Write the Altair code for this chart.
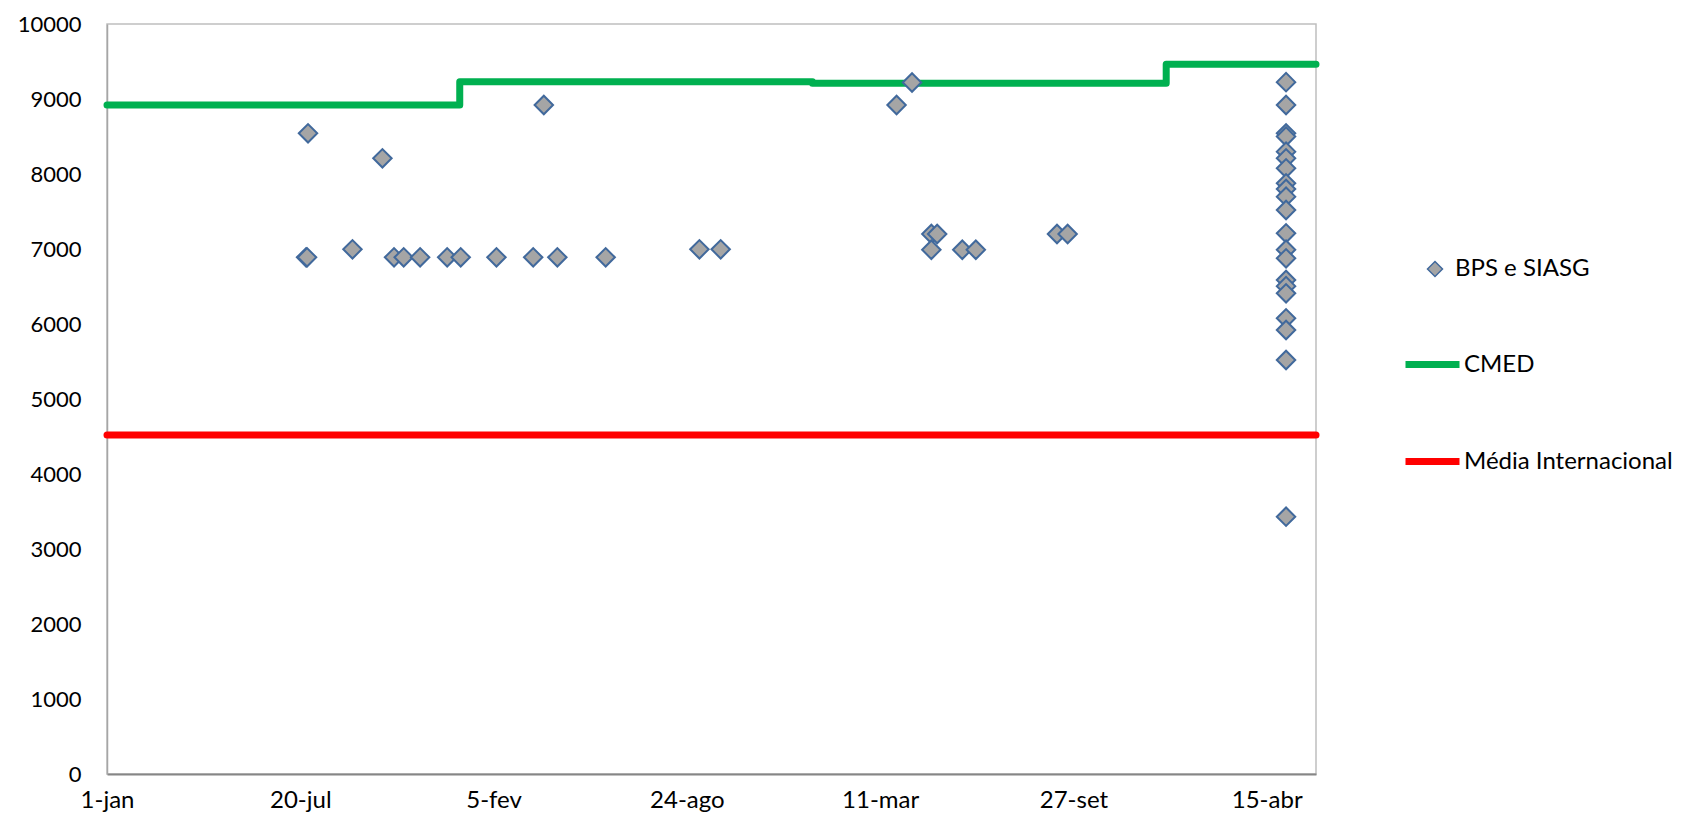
import altair as alt
import pandas as pd

DAY0 = pd.Timestamp("2010-01-01")

# x-axis ticks (Excel date axis, 200-day major unit)
tick_dates = ["2010-01-01", "2010-07-20", "2011-02-05", "2011-08-24",
              "2012-03-11", "2012-09-27", "2013-04-15"]
tick_labels = ["1-jan", "20-jul", "5-fev", "24-ago", "11-mar", "27-set", "15-abr"]
x_start = "2010-01-01"
x_end = "2013-06-05"
y_ticks = [0, 1000, 2000, 3000, 4000, 5000, 6000, 7000, 8000, 9000, 10000]

# BPS e SIASG purchases
bps_dates = [
    "2010-07-26", "2010-07-27", "2010-07-28", "2010-09-12", "2010-10-13",
    "2010-10-25", "2010-11-04", "2010-11-21", "2010-12-19", "2011-01-02",
    "2011-02-08", "2011-03-18", "2011-03-29", "2011-04-12", "2011-06-01",
    "2011-09-06", "2011-09-28", "2012-03-28", "2012-04-13", "2012-05-03",
    "2012-05-09", "2012-05-03", "2012-06-04", "2012-06-18", "2012-09-10",
    "2012-09-21",
    "2013-05-05", "2013-05-05", "2013-05-05", "2013-05-05", "2013-05-05",
    "2013-05-05", "2013-05-05", "2013-05-05", "2013-05-05", "2013-05-05",
    "2013-05-05", "2013-05-05", "2013-05-05", "2013-05-05", "2013-05-05",
    "2013-05-05", "2013-05-05", "2013-05-05", "2013-05-05", "2013-05-05",
    "2013-05-05",
]
bps_values = [
    6889, 6889, 8543, 6996, 8209,
    6889, 6889, 6889, 6889, 6889,
    6889, 6889, 8920, 6889, 6889,
    6996, 6996, 8920, 9220, 7200,
    7200, 6990, 6990, 6990, 7200,
    7200,
    9225, 8920, 8543, 8500, 8298,
    8209, 8076, 7876, 7800, 7698,
    7520, 7209, 6990, 6876, 6587,
    6505, 6409, 6076, 5920, 5520,
    3431,
]

# CMED ceiling price (step line)
cmed_dates = ["2010-01-01", "2011-01-01", "2012-01-01", "2013-01-01", "2013-06-05"]
cmed_values = [8920, 9231, 9209, 9463, 9463]

# International average
media_dates = ["2010-01-01", "2013-06-05"]
media_values = [4520, 4520]


def to_day(s):
    return (pd.Timestamp(s) - DAY0).days


tick_days = [to_day(d) for d in tick_dates]

pts = pd.DataFrame({
    "dia": [to_day(d) for d in bps_dates],
    "valor": bps_values,
    "serie": ["BPS e SIASG"] * len(bps_values),
})
lines = pd.DataFrame({
    "dia": [to_day(d) for d in cmed_dates] + [to_day(d) for d in media_dates],
    "valor": cmed_values + media_values,
    "serie": ["CMED"] * len(cmed_values) + ["Média Internacional"] * len(media_values),
})

FONT = "Lato"
label_expr = "{}[indexof({}, datum.value)]".format(
    str(tick_labels), str(tick_days))

x_scale = alt.Scale(domain=[to_day(x_start), to_day(x_end)], nice=False, zero=False)
y_scale = alt.Scale(domain=[0, 10000], nice=False)

x_axis = alt.Axis(values=tick_days, labelExpr=label_expr, title=None, grid=False,
                  ticks=False, labelPadding=33, labelBaseline="alphabetic",
                  labelFont=FONT, labelFontSize=24,
                  labelColor="#000000", domainColor="#868686", domainWidth=2,
                  labelFlush=False, labelOverlap=False)
y_axis = alt.Axis(values=y_ticks, format="d", title=None, grid=False, ticks=False,
                  labelPadding=26, labelFont=FONT, labelFontSize=22,
                  labelColor="#000000", domainColor="#A6A6A6", domainWidth=1.5)

line_layer = alt.Chart(lines).mark_line(
    interpolate="step-after", strokeWidth=7, strokeCap="round", strokeJoin="round"
).encode(
    x=alt.X("dia:Q", scale=x_scale, axis=x_axis),
    y=alt.Y("valor:Q", scale=y_scale, axis=y_axis),
    color=alt.Color(
        "serie:N",
        scale=alt.Scale(domain=["CMED", "Média Internacional"],
                        range=["#00B050", "#FF0000"]),
        legend=alt.Legend(orient="none", legendX=1295, legendY=310, title=None,
                          symbolType="stroke", symbolSize=2916, symbolStrokeWidth=7,
                          rowPadding=52, labelOffset=1, labelFont=FONT,
                          labelFontSize=24, labelColor="#000000", padding=0,
                          labelLimit=400),
    ),
)

point_layer = alt.Chart(pts).mark_point(
    filled=True, fill="#A5A5A5", stroke="#41699C", strokeWidth=2, size=340, opacity=1
).encode(
    x=alt.X("dia:Q", scale=x_scale, axis=x_axis),
    y=alt.Y("valor:Q", scale=y_scale, axis=y_axis),
    shape=alt.Shape(
        "serie:N",
        scale=alt.Scale(domain=["BPS e SIASG"], range=["diamond"]),
        legend=alt.Legend(orient="none", legendX=1316, legendY=233, title=None,
                          symbolSize=225, symbolStrokeWidth=1.5,
                          labelOffset=8, labelFont=FONT, labelFontSize=24,
                          labelColor="#000000", padding=0, labelLimit=400),
    ),
)

chart = alt.layer(line_layer, point_layer).properties(
    width=1209, height=750,
    autosize=alt.AutoSizeParams(type="none"),
    padding={"left": 99, "top": 16, "right": 358, "bottom": 40},
).configure_view(stroke="#BFBFBF", strokeWidth=1.5)

chart.save("out.html", embed_options={"renderer": "svg", "actions": False})
